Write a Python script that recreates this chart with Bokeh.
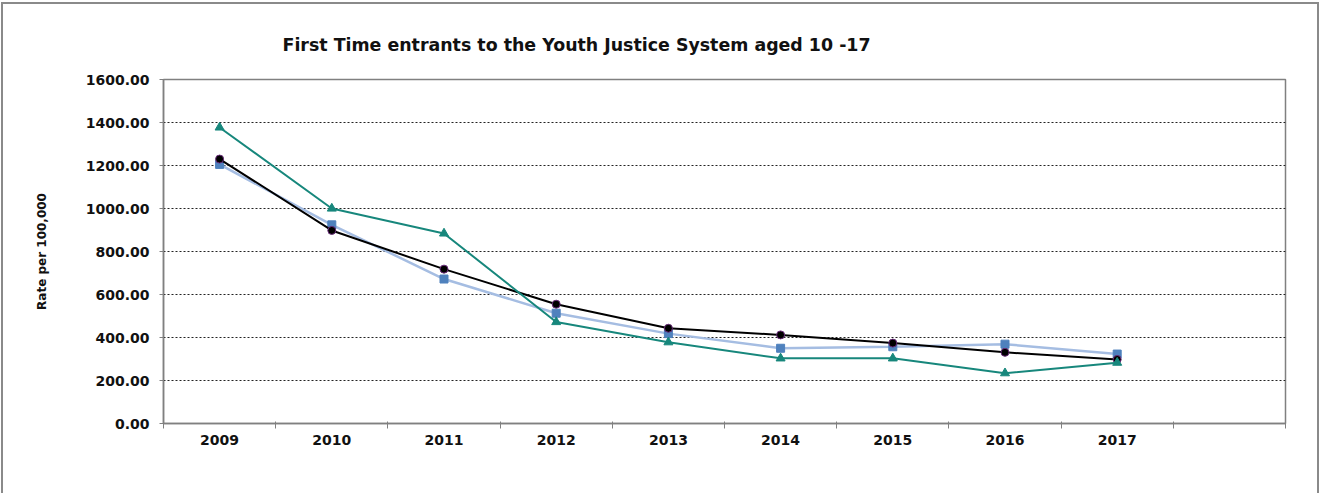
from bokeh.plotting import figure
from bokeh.models import (Range1d, FixedTicker, NumeralTickFormatter, Legend,
                          LegendItem)
from bokeh.embed import file_html
from bokeh.resources import INLINE

nan = float("nan")
# ---- data ----
years = [2009, 2010, 2011, 2012, 2013, 2014, 2015, 2016, 2017]
merton = [1377, 1000, 884, 472, 378, 303, 303, 234, 283]
outer_london = [nan, nan, nan, nan, nan, nan, nan, nan, nan]
stat_neighbours = [1205, 924, 672, 513, 418, 350, 357, 369, 323]
england = [1230, 898, 718, 555, 443, 412, 374, 331, 298]
y_ticks = [0, 200, 400, 600, 800, 1000, 1200, 1400, 1600]
title_text = "First Time entrants to the Youth Justice System aged 10 -17"
y_label = "Rate per 100,000"

p = figure(frame_width=1122, frame_height=344,
           x_range=Range1d(2008.5, 2018.5), y_range=Range1d(0, 1600),
           output_backend="svg", toolbar_location=None,
           min_border_left=160, min_border_right=32,
           min_border_top=75, min_border_bottom=60,
           background_fill_color="white", border_fill_color="white")
p.margin = (2, 0, 0, 1)
p.styles = {"border": "2px solid #8a8a8a", "border-bottom": "none"}

# title
p.title.text = title_text
p.title.text_font = "DejaVu Sans"
p.title.text_font_size = "17.4px"
p.title.text_font_style = "bold"
p.title.text_color = "#111111"
p.title.align = "left"
p.title.offset = 119
p.title.standoff = 50

# axes
p.yaxis.axis_label = y_label
p.yaxis.axis_label_text_font = "DejaVu Sans"
p.yaxis.axis_label_text_font_size = "12px"
p.yaxis.axis_label_text_font_style = "bold"
p.yaxis.axis_label_text_color = "#111111"
p.yaxis.axis_label_standoff = 34
p.yaxis.ticker = FixedTicker(ticks=y_ticks)
p.yaxis.formatter = NumeralTickFormatter(format="0.00")
p.yaxis.major_label_text_font = "DejaVu Sans"
p.yaxis.major_label_text_font_size = "14px"
p.yaxis.major_label_text_font_style = "bold"
p.yaxis.major_label_text_color = "#111111"
p.yaxis.major_label_standoff = 10
p.yaxis.major_tick_out = 4
p.yaxis.major_tick_in = 0
p.yaxis.minor_tick_out = 0
p.yaxis.minor_tick_in = 0
p.yaxis.axis_line_color = "#808080"
p.yaxis.axis_line_width = 1.5
p.yaxis.major_tick_line_color = "#808080"

p.xaxis.ticker = FixedTicker(ticks=years,
                             minor_ticks=[2008.5 + i for i in range(11)])
p.xaxis.major_label_text_font = "DejaVu Sans"
p.xaxis.major_label_text_font_size = "14px"
p.xaxis.major_label_text_font_style = "bold"
p.xaxis.major_label_text_color = "#111111"
p.xaxis.major_tick_out = 0
p.xaxis.major_tick_in = 0
p.xaxis.minor_tick_out = 5
p.xaxis.minor_tick_in = 2
p.xaxis.minor_tick_line_color = "#808080"
p.xaxis.axis_line_color = "#808080"
p.xaxis.axis_line_width = 1.5
p.xaxis.major_label_standoff = 6

p.xgrid.visible = False
p.ygrid.grid_line_color = "#222222"
p.ygrid.grid_line_dash = "2 2"
p.ygrid.grid_line_width = 1
p.outline_line_color = "#808080"
p.outline_line_width = 1.5

# series
teal = "#17877c"
sn_line = "#a5bde2"
sn_marker = "#4f81bd"
orange = "#ed7d31"

sn_l = p.line(years, stat_neighbours, line_color=sn_line, line_width=2.5)
sn_m = p.scatter(years, stat_neighbours, marker="square", size=8,
                 fill_color=sn_marker, line_color=sn_marker)
en_l = p.line(years, england, line_color="black", line_width=2)
en_m = p.scatter(years, england, marker="circle", size=8,
                 fill_color="black", line_color="#6a2c7a", line_width=1)
me_l = p.line(years, merton, line_color=teal, line_width=2)
me_m = p.scatter(years, merton, marker="triangle", size=9,
                 fill_color=teal, line_color=teal)
ol_l = p.line(years, outer_london, line_color=orange, line_width=2)
ol_m = p.scatter(years, outer_london, marker="diamond", size=6,
                 fill_color=orange, line_color=orange)

legend = Legend(items=[
    LegendItem(label="Merton", renderers=[me_l, me_m]),
    LegendItem(label="Outer London", renderers=[ol_l, ol_m]),
    LegendItem(label="Statistical Neighbours", renderers=[sn_l, sn_m]),
    LegendItem(label="England", renderers=[en_l, en_m]),
], orientation="horizontal", location="center")
legend.label_text_font = "Liberation Sans"
legend.label_text_font_size = "10px"
legend.label_text_color = "#222222"
legend.glyph_width = 30
legend.glyph_height = 12
legend.label_height = 12
legend.label_standoff = 2
legend.spacing = 24
legend.padding = 4
legend.margin = 0
legend.border_line_color = "#808080"
legend.border_line_width = 1
legend.background_fill_color = "white"
p.add_layout(legend, "below")

open("out.html", "w").write(file_html(p, INLINE))
